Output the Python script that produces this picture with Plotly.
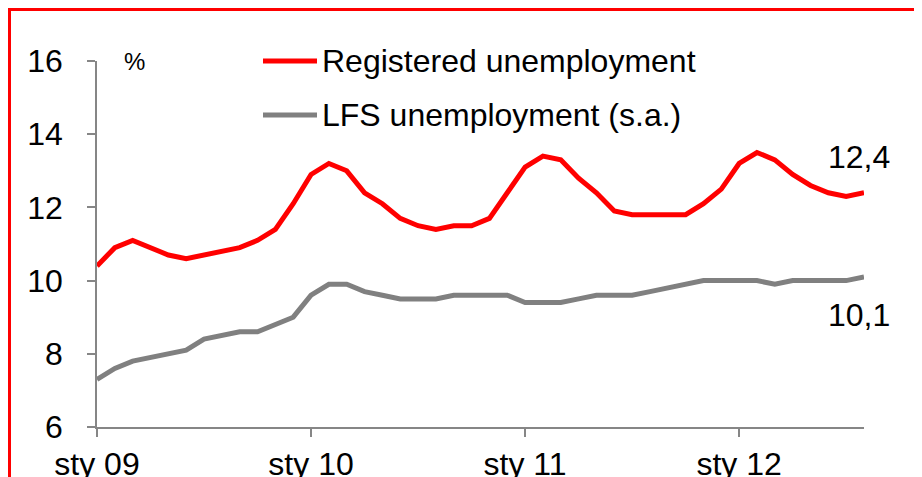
import plotly.graph_objects as go

# --- data (monthly, sty 2009 - sie 2012) ---
months = [f"{y}-{m:02d}" for y in range(2009, 2013) for m in range(1, 13)][:44]

registered = [10.4, 10.9, 11.1, 10.9, 10.7, 10.6, 10.7, 10.8, 10.9, 11.1, 11.4, 12.1,
              12.9, 13.2, 13.0, 12.4, 12.1, 11.7, 11.5, 11.4, 11.5, 11.5, 11.7, 12.4,
              13.1, 13.4, 13.3, 12.8, 12.4, 11.9, 11.8, 11.8, 11.8, 11.8, 12.1, 12.5,
              13.2, 13.5, 13.3, 12.9, 12.6, 12.4, 12.3, 12.4]

lfs = [7.3, 7.6, 7.8, 7.9, 8.0, 8.1, 8.4, 8.5, 8.6, 8.6, 8.8, 9.0,
       9.6, 9.9, 9.9, 9.7, 9.6, 9.5, 9.5, 9.5, 9.6, 9.6, 9.6, 9.6,
       9.4, 9.4, 9.4, 9.5, 9.6, 9.6, 9.6, 9.7, 9.8, 9.9, 10.0, 10.0,
       10.0, 10.0, 9.9, 10.0, 10.0, 10.0, 10.0, 10.1]

tick_vals = ["2009-01", "2010-01", "2011-01", "2012-01"]
tick_text = ["sty 09", "sty 10", "sty 11", "sty 12"]
y_ticks = [6, 8, 10, 12, 14, 16]

series_names = ["Registered unemployment", "LFS unemployment (s.a.)"]
series_colors = ["#ff0000", "#808080"]

FONT = "Liberation Sans, Arial, sans-serif"
FS = 32
AXIS_GREY = "#868686"

# page has an 8px body margin, so the figure is a bit smaller and offset
W, H = 914, 469
# plot area on the page: x 97..864, y 61..427
PW, PH = 767, 366
def px(x):
    return (x - 97) / PW
def py(y):
    return (427 - y) / PH

fig = go.Figure()
for name, vals, col in zip(series_names, [registered, lfs], series_colors):
    fig.add_trace(go.Scatter(x=months, y=vals, mode="lines", name=name,
                             line=dict(color=col, width=5), showlegend=False))

# end labels
fig.add_annotation(x=months[-1], y=registered[-1], text="12,4", showarrow=False,
                   xshift=-5, yshift=36, font=dict(size=FS, color="black", family=FONT))
fig.add_annotation(x=months[-1], y=lfs[-1], text="10,1", showarrow=False,
                   xshift=-5, yshift=-38, font=dict(size=FS, color="black", family=FONT))

# unit label
fig.add_annotation(xref="paper", yref="paper", x=px(134), y=py(61), text="%",
                   showarrow=False, xanchor="center", yanchor="middle",
                   font=dict(size=24, color="black", family=FONT))

# hand-made legend (long line swatches like the original)
for i, (name, col) in enumerate(zip(series_names, series_colors)):
    yp = py(61 + i * 54)
    fig.add_shape(type="line", xref="paper", yref="paper",
                  x0=px(263), x1=px(317), y0=yp, y1=yp,
                  line=dict(color=col, width=5))
    fig.add_annotation(xref="paper", yref="paper", x=px(320), y=yp,
                       xanchor="left", yanchor="middle", text=name, showarrow=False,
                       font=dict(size=FS, color="black", family=FONT))

# red frame lines (as close to the page corner as the figure allows)
fig.add_shape(type="line", xref="paper", yref="paper", x0=-0.2, x1=1.2,
              y0=py(9.5), y1=py(9.5), line=dict(color="#ff0000", width=3))
fig.add_shape(type="line", xref="paper", yref="paper", x0=px(9.5), x1=px(9.5),
              y0=py(9.5), y1=-0.3, line=dict(color="#ff0000", width=3))

fig.update_layout(
    width=W, height=H,
    margin=dict(l=97 - 8, r=W - (864 - 8), t=61 - 8, b=H - (427 - 8), autoexpand=False),
    paper_bgcolor="white", plot_bgcolor="white",
    font=dict(family=FONT, size=FS, color="black"),
    showlegend=False,
)

fig.update_xaxes(type="category", categoryorder="array", categoryarray=months,
                 range=[0, len(months) - 1], tickvals=tick_vals, ticktext=tick_text,
                 automargin=False,
                 showgrid=False, showline=True, linecolor=AXIS_GREY, linewidth=1.5,
                 ticks="outside", ticklen=8, tickcolor=AXIS_GREY, tickwidth=1.5,
                 tickfont=dict(size=FS, color="black", family=FONT), zeroline=False)
fig.update_yaxes(range=[6, 16], tickvals=y_ticks, automargin=False,
                 showgrid=False, showline=True, linecolor=AXIS_GREY, linewidth=1.5,
                 ticks="outside", ticklen=8, tickcolor=AXIS_GREY, tickwidth=1.5,
                 ticklabelstandoff=18,
                 tickfont=dict(size=FS, color="black", family=FONT), zeroline=False)

fig.write_html("out.html")
